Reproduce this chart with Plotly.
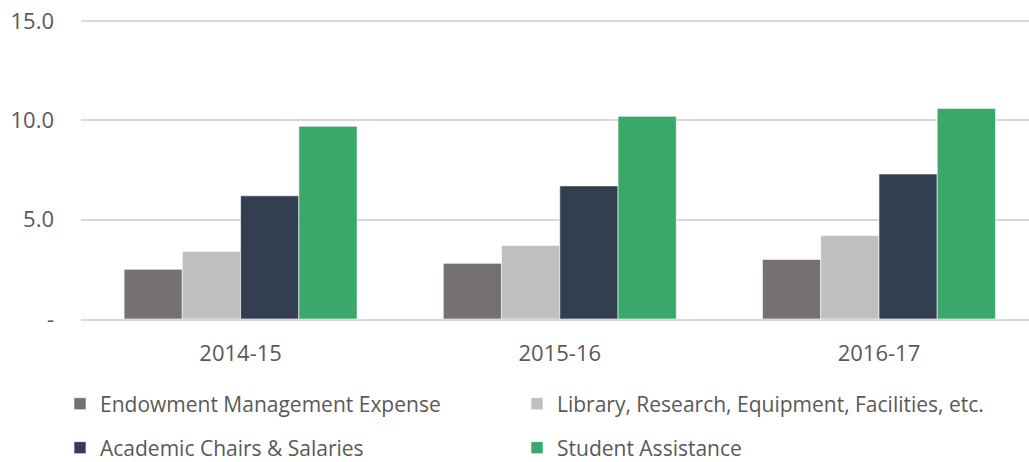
import plotly.graph_objects as go

years = ["2014-15", "2015-16", "2016-17"]
endowment = [2.5, 2.8, 3.0]
library = [3.4, 3.7, 4.2]
chairs = [6.2, 6.7, 7.3]
student = [9.7, 10.2, 10.6]

names = ["Endowment Management Expense", "Library, Research, Equipment, Facilities, etc.",
         "Academic Chairs & Salaries", "Student Assistance"]
colors = ["#767171", "#BFBFBF", "#333F50", "#3BA86B"]
legends = ["legend2", "legend3", "legend4", "legend5"]

ytick_vals = [0, 5, 10, 15]
ytick_text = ["-", "5.0", "10.0", "15.0"]

W, H = 1029, 462

fig = go.Figure()
for vals, name, col, lg in zip([endowment, library, chairs, student], names, colors, legends):
    fig.add_trace(go.Bar(x=years, y=vals, name=name, marker_color=col,
                         marker_line=dict(color="white", width=0.6), legend=lg))

font = "Open Sans, sans-serif"
leg_common = dict(orientation="h", xref="container", yref="container", xanchor="left", yanchor="middle",
                  font=dict(family=font, size=21, color="#595959"), bgcolor="rgba(0,0,0,0)")

fig.update_layout(
    width=W, height=H,
    margin=dict(l=81, r=0, t=19, b=143, autoexpand=False),
    paper_bgcolor="white", plot_bgcolor="white",
    barmode="group", bargap=0.27, bargroupgap=0,
    font=dict(family=font, color="#595959"),
    legend2=dict(x=60 / W, y=1 - 404 / H, **leg_common),
    legend3=dict(x=517 / W, y=1 - 404 / H, **leg_common),
    legend4=dict(x=60 / W, y=1 - 448 / H, **leg_common),
    legend5=dict(x=517 / W, y=1 - 448 / H, **leg_common),
    xaxis=dict(range=[-0.5, 2.47], showgrid=False, showline=True, linecolor="#D9D9D9", linewidth=2,
               tickfont=dict(size=22, color="#595959"), ticks="", ticklabelstandoff=14),
    # a little headroom above 15 so plotly keeps the top gridline
    yaxis=dict(range=[0, 15.1], tickvals=ytick_vals, ticktext=ytick_text, showgrid=True,
               gridcolor="#D9D9D9", gridwidth=1.5, zeroline=False, showline=False,
               tickfont=dict(size=22, color="#595959"), ticks="", ticklabelstandoff=26),
)

# drop the page's default body margin so the figure fills the window
fig.write_html("out.html", config={"displayModeBar": False},
               post_script="document.body.style.margin = '0';")
